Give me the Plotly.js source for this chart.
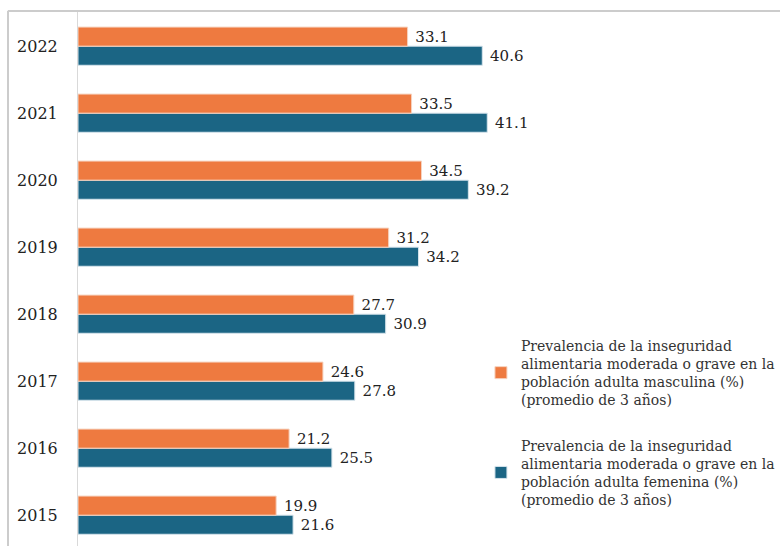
<!DOCTYPE html>
<html>
<head>
<meta charset="utf-8">
<script src="https://cdn.plot.ly/plotly-3.0.1.min.js"></script>
<style>
  body { margin: 0; background: #fff; }
  #chart { width: 780px; height: 546px; }
</style>
</head>
<body>
<div id="chart"></div>
<script>
var years = ['2015', '2016', '2017', '2018', '2019', '2020', '2021', '2022'];
var hombres = [19.9, 21.2, 24.6, 27.7, 31.2, 34.5, 33.5, 33.1];
var mujeres = [21.6, 25.5, 27.8, 30.9, 34.2, 39.2, 41.1, 40.6];

var nameHombres = 'Prevalencia de la inseguridad<br>alimentaria moderada o grave en la<br>población adulta masculina (%)<br>(promedio de 3 años)';
var nameMujeres = 'Prevalencia de la inseguridad<br>alimentaria moderada o grave en la<br>población adulta femenina (%)<br>(promedio de 3 años)';

var serif = 'DejaVu Serif';

// blue trace first so it sits below the orange one inside each group
var traceMujeres = {
  type: 'bar',
  orientation: 'h',
  y: years,
  x: mujeres,
  name: nameMujeres,
  legendgroup: 'mujeres',
  legendrank: 2,
  marker: { color: '#1b6584', line: { color: '#d6e4ec', width: 1 } },
  text: mujeres.map(function (v) { return ' ' + v.toFixed(1); }),
  textposition: 'outside',
  cliponaxis: false,
  textfont: { family: serif, size: 15, color: '#222' },
  hoverinfo: 'x'
};

var traceHombres = {
  type: 'bar',
  orientation: 'h',
  y: years,
  x: hombres,
  name: nameHombres,
  legendgroup: 'hombres',
  legendrank: 1,
  marker: { color: '#ee7a40', line: { color: '#f6d3bf', width: 1 } },
  text: hombres.map(function (v) { return ' ' + v.toFixed(1); }),
  textposition: 'outside',
  cliponaxis: false,
  textfont: { family: serif, size: 15, color: '#222' },
  hoverinfo: 'x'
};

var layout = {
  width: 780,
  height: 546,
  margin: { l: 78, r: 0, t: 12, b: 0 },
  paper_bgcolor: '#fff',
  plot_bgcolor: '#fff',
  barmode: 'group',
  bargap: 0.43,
  bargroupgap: 0,
  showlegend: true,
  font: { family: serif, size: 15, color: '#222' },
  xaxis: {
    range: [0, 70.5],
    visible: false,
    fixedrange: true
  },
  yaxis: {
    type: 'category',
    categoryorder: 'array',
    categoryarray: years,
    range: [-0.46, 7.51],
    showline: true,
    linecolor: '#d9d9d9',
    linewidth: 1,
    ticks: '',
    ticklabelstandoff: 16,
    showgrid: false,
    tickfont: { family: serif, size: 16, color: '#222' },
    fixedrange: true
  },
  legend: {
    x: 0.574,
    xanchor: 'left',
    y: 0.405,
    yanchor: 'top',
    traceorder: 'grouped',
    tracegroupgap: 24,
    bgcolor: 'rgba(0,0,0,0)',
    font: { family: serif, size: 14, color: '#333' }
  },
  shapes: [
    { type: 'line', xref: 'paper', yref: 'paper', x0: -0.1, x1: 1.02, y0: 1.0019, y1: 1.0019,
      line: { color: '#cccccc', width: 2 } },
    { type: 'line', xref: 'paper', yref: 'paper', x0: -0.0997, x1: -0.0997, y0: 1.0019, y1: -0.05,
      line: { color: '#cccccc', width: 2 } }
  ]
};

Plotly.newPlot('chart', [traceMujeres, traceHombres], layout, { displayModeBar: false, staticPlot: true });
</script>
</body>
</html>
